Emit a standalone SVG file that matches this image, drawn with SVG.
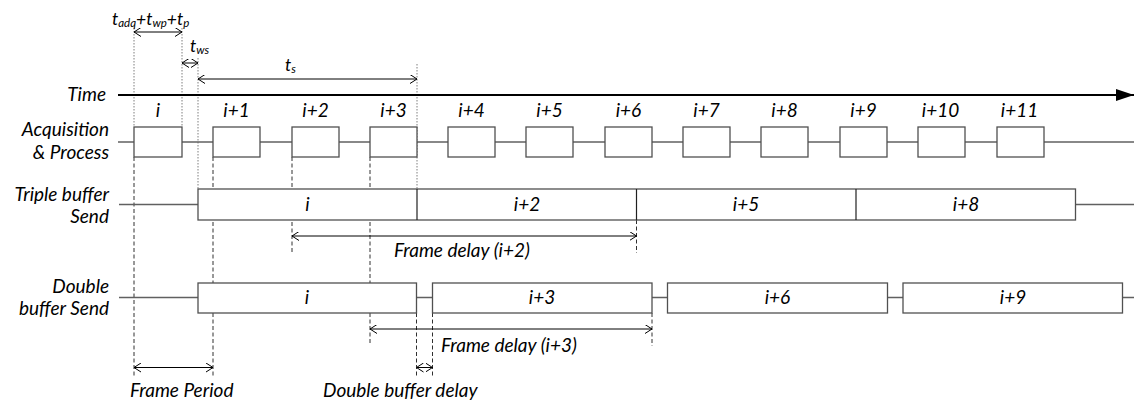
<svg xmlns="http://www.w3.org/2000/svg" width="1134" height="406" viewBox="0 0 1134 406">
<style>
text{font-family:Lato,"Open Sans","DejaVu Sans",sans-serif;font-style:italic;font-size:19px;fill:#000}
.m{text-anchor:middle}
.r{text-anchor:end}
.t{font-size:17.5px}
.sub{font-size:11.5px}
.box{fill:#fff;stroke:#505050;stroke-width:1.3}
.ln{stroke:#606060;stroke-width:1.3;fill:none}
.div{stroke:#202020;stroke-width:1.2}
.dot{stroke:#707070;stroke-width:0.9;stroke-dasharray:1.5,1.5;fill:none}
.dash{stroke:#303030;stroke-width:1;stroke-dasharray:4,2.5;fill:none}
.dim{stroke:#000;stroke-width:1;fill:none;marker-start:url(#a0);marker-end:url(#a1)}
</style>
<defs>
<marker id="a1" markerUnits="userSpaceOnUse" markerWidth="9" markerHeight="11" refX="7" refY="4.5" orient="auto"><path d="M0,0 L7,4.5 L0,9" fill="none" stroke="#000" stroke-width="1"/></marker>
<marker id="a0" markerUnits="userSpaceOnUse" markerWidth="9" markerHeight="11" refX="0" refY="4.5" orient="auto"><path d="M7,0 L0,4.5 L7,9" fill="none" stroke="#000" stroke-width="1"/></marker>
<marker id="tri" markerUnits="userSpaceOnUse" markerWidth="20" markerHeight="14" refX="18" refY="6" orient="auto"><path d="M0,0 L18,6 L0,12 Z" fill="#000"/></marker>
</defs>

<g id="guides">
<line class="dot" x1="134" y1="28" x2="134" y2="127"/>
<line class="dot" x1="182" y1="28" x2="182" y2="127"/>
<line class="dot" x1="198" y1="58" x2="198" y2="189"/>
<line class="dot" x1="417" y1="64" x2="417" y2="189"/>
<line class="dash" x1="134" y1="157" x2="134" y2="377"/>
<line class="dash" x1="213" y1="157" x2="213" y2="377"/>
<line class="dash" x1="292" y1="157" x2="292" y2="253"/>
<line class="dash" x1="370" y1="157" x2="370" y2="345"/>
<line class="dash" x1="636.5" y1="220" x2="636.5" y2="253"/>
<line class="dash" x1="652" y1="313" x2="652" y2="346"/>
<line class="dash" x1="416.5" y1="313" x2="416.5" y2="377"/>
<line class="dash" x1="432.5" y1="313" x2="432.5" y2="377"/>
</g>

<g id="time">
<text class="r" x="106" y="101">Time</text>
<line x1="118" y1="95" x2="1134" y2="95" stroke="#000" stroke-width="2.2" marker-end="url(#tri)"/>
</g>

<g id="annotations">
<text class="t" x="112" y="25">t<tspan class="sub" dy="2">adq</tspan><tspan dy="-2">+t</tspan><tspan class="sub" dy="2">wp</tspan><tspan dy="-2">+t</tspan><tspan class="sub" dy="2">p</tspan></text>
<line class="dim" x1="134" y1="32" x2="182" y2="32"/>
<text class="t" x="190" y="52">t<tspan class="sub" dy="2">ws</tspan></text>
<line class="dim" x1="182" y1="63" x2="198" y2="63"/>
<text class="t" x="285" y="71">t<tspan class="sub" dy="2">s</tspan></text>
<line class="dim" x1="198" y1="79" x2="417" y2="79"/>
</g>

<g id="acquisition">
<text class="r" x="109" y="136">Acquisition</text>
<text class="r" x="109" y="159">&amp; Process</text>
<line class="ln" x1="118" y1="142" x2="1134" y2="142"/>
<rect class="box" x="134" y="127" width="48" height="30"/>
<rect class="box" x="213" y="127" width="47" height="30"/>
<rect class="box" x="292" y="127" width="47" height="30"/>
<rect class="box" x="370" y="127" width="47" height="30"/>
<rect class="box" x="448" y="127" width="47" height="30"/>
<rect class="box" x="526" y="127" width="47" height="30"/>
<rect class="box" x="605" y="127" width="47" height="30"/>
<rect class="box" x="683" y="127" width="47" height="30"/>
<rect class="box" x="761" y="127" width="47" height="30"/>
<rect class="box" x="840" y="127" width="47" height="30"/>
<rect class="box" x="918" y="127" width="47" height="30"/>
<rect class="box" x="997" y="127" width="47" height="30"/>
<text class="m" x="158" y="117">i</text>
<text class="m" x="236.5" y="117">i+1</text>
<text class="m" x="315.5" y="117">i+2</text>
<text class="m" x="393.5" y="117">i+3</text>
<text class="m" x="471.5" y="117">i+4</text>
<text class="m" x="549.5" y="117">i+5</text>
<text class="m" x="628.5" y="117">i+6</text>
<text class="m" x="706.5" y="117">i+7</text>
<text class="m" x="784.5" y="117">i+8</text>
<text class="m" x="863.5" y="117">i+9</text>
<text class="m" x="940.5" y="117">i+10</text>
<text class="m" x="1019.5" y="117">i+11</text>
</g>

<g id="triple">
<text class="r" x="109" y="201">Triple buffer</text>
<text class="r" x="109" y="223">Send</text>
<line class="ln" x1="119" y1="204.5" x2="198" y2="204.5"/>
<line class="ln" x1="1075.5" y1="204.5" x2="1134" y2="204.5"/>
<rect class="box" x="198" y="189" width="877.5" height="31"/>
<line class="div" x1="417" y1="189" x2="417" y2="220"/>
<line class="div" x1="636.5" y1="189" x2="636.5" y2="220"/>
<line class="div" x1="856" y1="189" x2="856" y2="220"/>
<text class="m" x="307.5" y="211">i</text>
<text class="m" x="527" y="211">i+2</text>
<text class="m" x="746" y="211">i+5</text>
<text class="m" x="966" y="211">i+8</text>
</g>

<g id="double">
<text class="r" x="109" y="293">Double</text>
<text class="r" x="109" y="315">buffer Send</text>
<line class="ln" x1="119" y1="297.5" x2="1134" y2="297.5"/>
<rect class="box" x="198" y="283" width="218.5" height="30"/>
<rect class="box" x="432.5" y="283" width="219.5" height="30"/>
<rect class="box" x="667.5" y="283" width="220" height="30"/>
<rect class="box" x="903" y="283" width="219.5" height="30"/>
<text class="m" x="307" y="304">i</text>
<text class="m" x="542" y="304">i+3</text>
<text class="m" x="777.5" y="304">i+6</text>
<text class="m" x="1013" y="304">i+9</text>
</g>

<g id="connectors">
<line class="dim" x1="292" y1="236" x2="636.5" y2="236"/>
<line class="dim" x1="370" y1="329" x2="652" y2="329"/>
<line class="dim" x1="134" y1="367.5" x2="213" y2="367.5"/>
<line class="dim" x1="416.5" y1="367.5" x2="432.5" y2="367.5"/>
</g>

<g id="labels">
<text x="394" y="257">Frame delay (i+2)</text>
<text x="441" y="352">Frame delay (i+3)</text>
<text x="130" y="397">Frame Period</text>
<text x="323" y="397">Double buffer delay</text>
</g>
</svg>
